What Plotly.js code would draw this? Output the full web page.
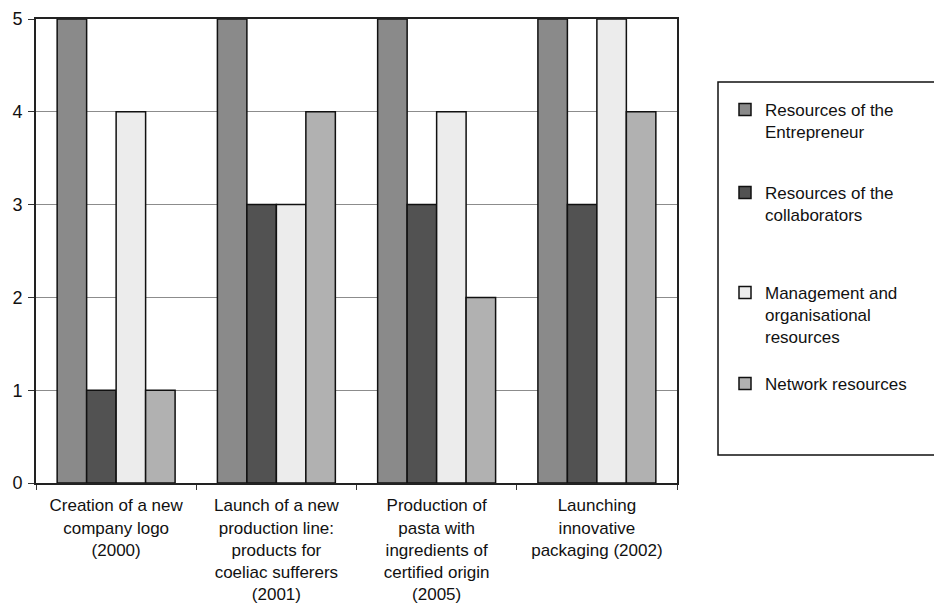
<!DOCTYPE html>
<html>
<head>
<meta charset="utf-8">
<script src="https://cdn.plot.ly/plotly-3.0.1.min.js"></script>
<style>
  html, body { margin: 0; padding: 0; background: #ffffff; }
  #chart { width: 934px; height: 605px; }
</style>
</head>
<body>
<div id="chart"></div>
<script>
// Initiatives (x categories)
const categories = [
  "Creation of a new<br>company logo<br>(2000)",
  "Launch of a new<br>production line:<br>products for<br>coeliac sufferers<br>(2001)",
  "Production of<br>pasta with<br>ingredients of<br>certified origin<br>(2005)",
  "Launching<br>innovative<br>packaging (2002)"
];

// Series names as shown in the legend
const seriesNames = [
  "Resources of the<br>Entrepreneur",
  "Resources of the<br>collaborators",
  "Management and<br>organisational<br>resources",
  "Network resources"
];

// Scores per initiative
const entrepreneur  = [5, 5, 5, 5];
const collaborators = [1, 3, 3, 3];
const management    = [4, 3, 4, 5];
const network       = [1, 4, 2, 4];

const yTicks = [0, 1, 2, 3, 4, 5];

const fills = ["#8a8a8a", "#525252", "#ececec", "#b1b1b1"];
const values = [entrepreneur, collaborators, management, network];

// Plot-area geometry in pixels, used to place legends and the legend frame
const W = 934, H = 605;
const M = { l: 36, r: 257, t: 19, b: 122 };
const pw = W - M.l - M.r, ph = H - M.t - M.b;
const px2x = p => (p - M.l) / pw;
const px2y = p => (H - M.b - p) / ph;

// One legend per series so each entry can sit at its own height
const legendKeys = ["legend", "legend2", "legend3", "legend4"];
const legendTops = [92, 175, 275, 366];

const traces = values.map((v, i) => ({
  type: "bar",
  name: seriesNames[i],
  x: categories,
  y: v,
  legend: legendKeys[i],
  showlegend: true,
  marker: { color: fills[i], line: { color: "#111111", width: 1.5 } },
  hoverinfo: "skip"
}));

const font = { family: "Liberation Sans, Arial, sans-serif", color: "#111111" };

const layout = {
  width: W,
  height: H,
  margin: M,
  showlegend: true,
  paper_bgcolor: "#ffffff",
  plot_bgcolor: "#ffffff",
  barmode: "group",
  bargap: 0.264,
  bargroupgap: 0,
  font: Object.assign({ size: 17 }, font),
  xaxis: {
    type: "category",
    tickson: "boundaries",
    ticks: "outside",
    ticklen: 5,
    tickcolor: "#333333",
    showline: true,
    linecolor: "#222222",
    linewidth: 2,
    mirror: true,
    showgrid: false,
    tickfont: Object.assign({ size: 17 }, font),
    ticklabelstandoff: 6
  },
  yaxis: {
    range: [0, 5],
    tickvals: yTicks,
    ticktext: yTicks.map(String),
    ticks: "outside",
    ticklen: 6,
    tickcolor: "#333333",
    showline: true,
    linecolor: "#222222",
    linewidth: 2,
    mirror: true,
    showgrid: true,
    gridcolor: "#8c8c8c",
    gridwidth: 1,
    zeroline: false,
    tickfont: Object.assign({ size: 18 }, font),
    ticklabelstandoff: 2
  },
  shapes: [{
    type: "rect",
    xref: "paper", yref: "paper",
    x0: px2x(718), x1: px2x(940),
    y0: px2y(455), y1: px2y(82),
    line: { color: "#111111", width: 1.5 },
    fillcolor: "rgba(0,0,0,0)",
    layer: "below"
  }]
};

legendKeys.forEach((k, i) => {
  layout[k] = {
    x: px2x(725),
    y: px2y(legendTops[i]),
    xanchor: "left",
    yanchor: "top",
    xref: "paper",
    yref: "paper",
    bgcolor: "rgba(0,0,0,0)",
    borderwidth: 0,
    valign: "top",
    font: Object.assign({ size: 17 }, font)
  };
});

Plotly.newPlot("chart", traces, layout, { displayModeBar: false, staticPlot: true });
</script>
</body>
</html>
